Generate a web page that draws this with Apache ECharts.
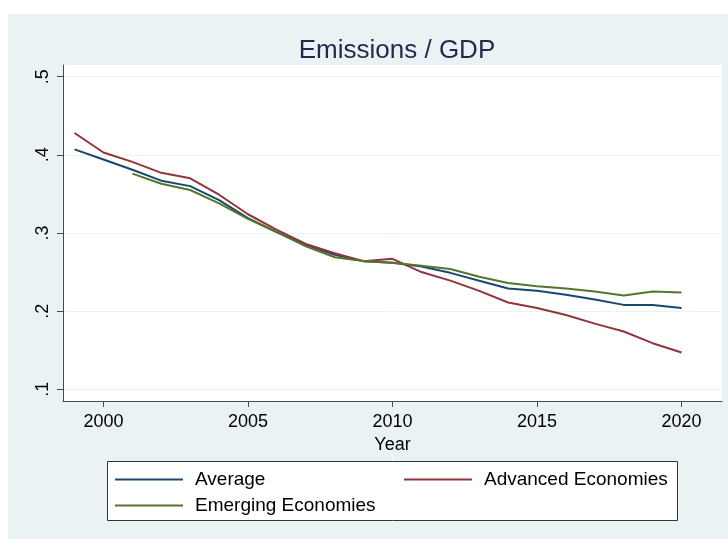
<!DOCTYPE html>
<html>
<head>
<meta charset="utf-8">
<script src="https://cdn.jsdelivr.net/npm/echarts@6/dist/echarts.min.js"></script>
<style>
html,body{margin:0;padding:0;background:#fff;}
#chart{width:728px;height:539px;}
</style>
</head>
<body>
<div id="chart"></div>
<script>
const years = [1999,2000,2001,2002,2003,2004,2005,2006,2007,2008,2009,2010,2011,2012,2013,2014,2015,2016,2017,2018,2019,2020];
const average = [0.407,0.394,0.381,0.367,0.360,0.342,0.319,0.301,0.285,0.272,0.264,0.262,0.257,0.249,0.239,0.229,0.226,0.221,0.215,0.208,0.208,0.204];
const advanced = [0.428,0.403,0.391,0.377,0.370,0.349,0.324,0.304,0.286,0.274,0.264,0.267,0.250,0.239,0.226,0.211,0.204,0.195,0.184,0.174,0.159,0.147];
const emerging = [null,null,0.376,0.363,0.355,0.338,0.318,0.301,0.283,0.269,0.264,0.262,0.258,0.254,0.244,0.236,0.232,0.229,0.225,0.220,0.225,0.224];
const xTicks = [2000,2005,2010,2015,2020];
const yTicks = [0.1,0.2,0.3,0.4,0.5];

const FONT = "'Liberation Sans', Arial, sans-serif";
const pair = (vals) => years.map((y,i) => [y, vals[i]]);

const chart = echarts.init(document.getElementById('chart'), null, {renderer:'canvas'});
const legendCommon = {
  orient:'horizontal', padding:0, itemWidth:68, itemHeight:2, icon:'rect',
  textStyle:{fontFamily:FONT, fontSize:19, color:'#000', padding:[0,0,0,7]},
  selectedMode:false
};
chart.setOption({
  animation:false,
  backgroundColor:'#ffffff',
  graphic:[
    {type:'rect', z:-10, shape:{x:8,y:14,width:730,height:540}, style:{fill:'#EAF2F3'}},
    {type:'rect', z:0, shape:{x:107.5,y:461.5,width:570,height:59}, style:{fill:'#ffffff', stroke:'#333333', lineWidth:1}}
  ],
  title:{
    text:'Emissions / GDP', left:392, top:33, textAlign:'center',
    textStyle:{fontFamily:FONT, fontSize:26, fontWeight:'normal', color:'#1e2b4d'}
  },
  legend:[
    Object.assign({left:115, top:470, data:['Average']}, legendCommon),
    Object.assign({left:404, top:470, data:['Advanced Economies']}, legendCommon),
    Object.assign({left:115, top:496, data:['Emerging Economies']}, legendCommon)
  ],
  grid:{left:63, right:6, top:65, bottom:138, show:true, backgroundColor:'#ffffff', borderWidth:0, containLabel:false},
  xAxis:{
    type:'value', min:1998.6, max:2021.4,
    name:'Year', nameLocation:'middle', nameGap:31,
    nameTextStyle:{fontFamily:FONT, fontSize:18, color:'#000'},
    axisLine:{show:true, onZero:false, lineStyle:{color:'#4a4a4a', width:1}},
    axisTick:{show:true, length:6, customValues:xTicks, lineStyle:{color:'#4a4a4a'}},
    axisLabel:{customValues:xTicks, margin:12, fontFamily:FONT, fontSize:18, color:'#000',
      formatter:(v)=>String(Math.round(v))},
    splitLine:{show:false}
  },
  yAxis:{
    type:'value', min:0.085, max:0.515,
    axisLine:{show:true, onZero:false, lineStyle:{color:'#4a4a4a', width:1}},
    axisTick:{show:true, length:6, customValues:yTicks, lineStyle:{color:'#4a4a4a'}},
    axisLabel:{customValues:yTicks, rotate:90, margin:11, fontFamily:FONT, fontSize:18, color:'#000',
      formatter:(v)=>String(Math.round(v*10)/10).replace(/^0\./,'.')},
    splitLine:{show:true, lineStyle:{color:'#EAF2F3', width:1}}
  },
  series:[
    {name:'Average', type:'line', data:pair(average), symbol:'none', showSymbol:false, lineStyle:{width:2, color:'#1a476f'}, itemStyle:{color:'#1a476f'}},
    {name:'Advanced Economies', type:'line', data:pair(advanced), symbol:'none', showSymbol:false, lineStyle:{width:2, color:'#90353b'}, itemStyle:{color:'#90353b'}},
    {name:'Emerging Economies', type:'line', data:pair(emerging), symbol:'none', showSymbol:false, lineStyle:{width:2, color:'#55752f'}, itemStyle:{color:'#55752f'}}
  ]
});
</script>
</body>
</html>
